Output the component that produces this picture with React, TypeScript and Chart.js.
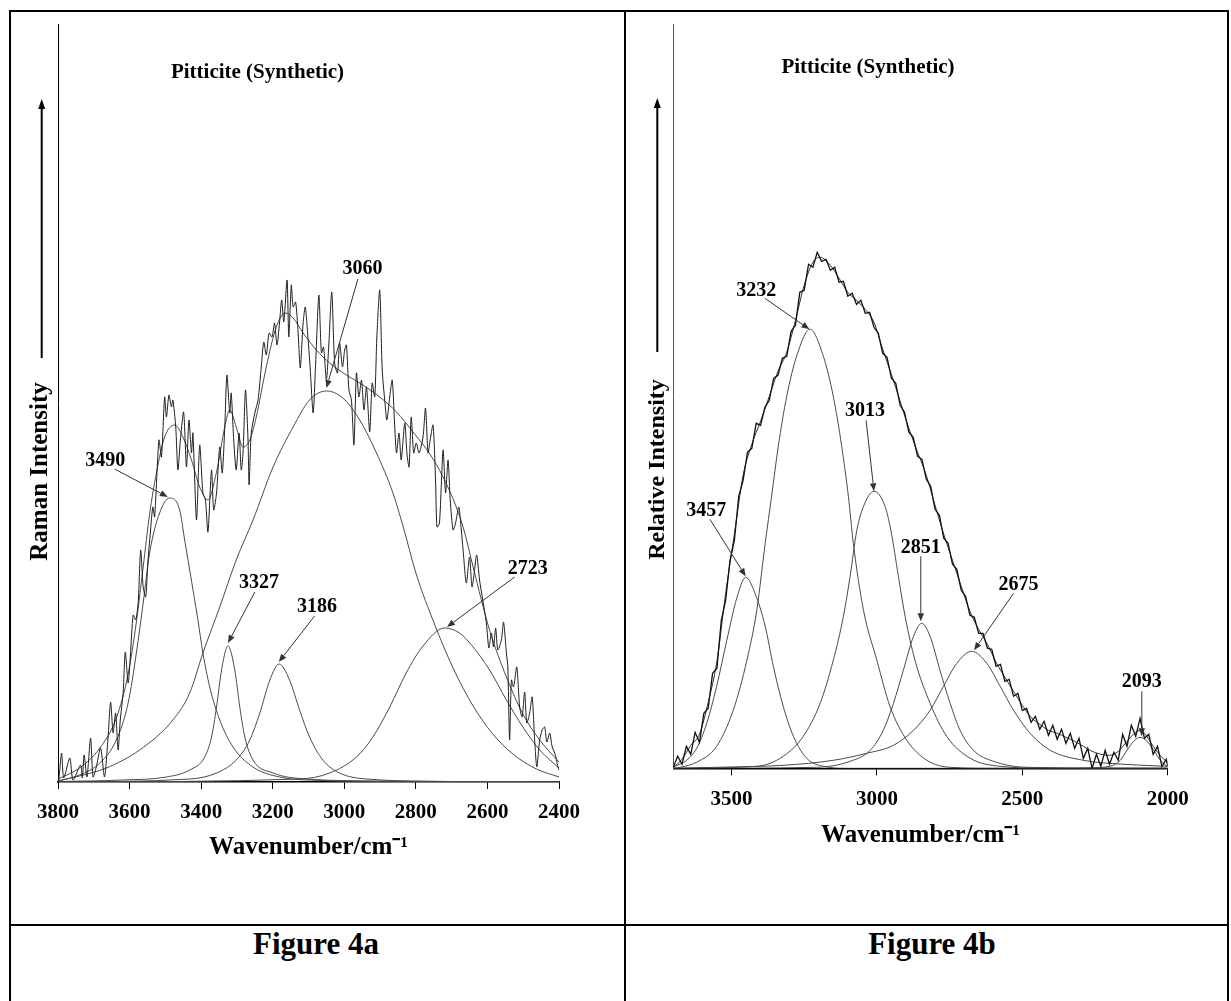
import React, { useEffect, useRef } from 'react';
import { Chart, registerables } from 'chart.js';

Chart.register(...registerables);

const FONT = "'Liberation Serif', 'Times New Roman', Times, serif";

// ---------------- Figure 4a (left) ----------------
const leftTickValues = [3800, 3600, 3400, 3200, 3000, 2800, 2600, 2400];

const leftSpecW = [3798, 3790, 3784, 3767, 3758, 3737, 3732, 3727, 3719, 3709, 3702, 3693, 3681, 3670, 3660, 3653, 3646, 3639, 3632, 3626, 3618, 3612, 3604, 3598, 3590, 3583, 3576, 3569, 3562, 3555, 3549, 3542, 3535, 3530, 3518, 3511, 3502, 3497, 3490, 3483, 3479, 3471, 3465, 3458, 3449, 3441, 3434, 3427, 3423, 3413, 3404, 3395, 3388, 3381, 3371, 3365, 3357, 3348, 3341, 3334, 3328, 3320, 3316, 3309, 3302, 3294, 3288, 3283, 3276, 3269, 3266, 3260, 3250, 3241, 3232, 3225, 3218, 3210, 3202, 3195, 3188, 3181, 3175, 3169, 3160, 3155, 3148, 3143, 3136, 3129, 3123, 3115, 3109, 3101, 3095, 3087, 3080, 3071, 3064, 3058, 3050, 3043, 3035, 3027, 3019, 3013, 3005, 2999, 2994, 2987, 2980, 2973, 2966, 2959, 2952, 2945, 2938, 2929, 2922, 2915, 2909, 2901, 2894, 2887, 2881, 2873, 2866, 2859, 2854, 2847, 2841, 2831, 2825, 2819, 2813, 2806, 2799, 2791, 2780, 2773, 2766, 2760, 2752, 2745, 2741, 2734, 2724, 2717, 2710, 2704, 2696, 2689, 2680, 2673, 2668, 2659, 2650, 2643, 2636, 2630, 2622, 2613, 2603, 2596, 2589, 2583, 2577, 2571, 2561, 2555, 2547, 2543, 2538, 2533, 2527, 2518, 2510, 2503, 2496, 2490, 2482, 2475, 2468, 2462, 2454, 2447, 2440, 2434, 2426, 2419, 2412, 2407, 2403, 2400];
const leftSpecI = [0, 29, 4, 24, 2, 17, 4, 27, 5, 44, 5, 15, 34, 5, 45, 80, 49, 69, 32, 62, 89, 130, 99, 125, 167, 162, 179, 232, 195, 185, 219, 249, 275, 265, 342, 325, 385, 365, 387, 375, 382, 355, 312, 342, 370, 315, 362, 329, 349, 262, 337, 289, 282, 250, 312, 272, 289, 335, 309, 355, 407, 369, 389, 342, 312, 349, 312, 329, 392, 342, 297, 349, 369, 382, 415, 440, 427, 449, 445, 459, 437, 459, 482, 460, 502, 445, 497, 475, 480, 449, 414, 459, 475, 442, 412, 369, 419, 487, 429, 435, 402, 439, 490, 419, 409, 439, 415, 432, 437, 392, 382, 337, 409, 385, 402, 372, 395, 350, 399, 385, 445, 492, 412, 382, 362, 385, 402, 355, 329, 349, 322, 359, 329, 315, 365, 329, 339, 329, 345, 374, 329, 342, 357, 302, 255, 259, 332, 289, 322, 282, 252, 259, 275, 252, 232, 199, 225, 195, 212, 227, 202, 182, 159, 134, 149, 135, 154, 132, 142, 160, 129, 115, 42, 102, 95, 115, 75, 65, 90, 59, 69, 85, 42, 15, 42, 52, 55, 40, 49, 35, 29, 22, 15, 12];

const leftFitW = [3800, 3740, 3683, 3637, 3604, 3581, 3562, 3544, 3525, 3502, 3474, 3451, 3427, 3404, 3381, 3357, 3334, 3320, 3302, 3283, 3264, 3246, 3218, 3190, 3165, 3143, 3115, 3078, 3041, 2994, 2948, 2901, 2854, 2808, 2761, 2724, 2687, 2664, 2640, 2594, 2547, 2501, 2454, 2400];
const leftFitI = [3, 14, 34, 64, 108, 160, 215, 268, 309, 345, 357, 345, 322, 295, 282, 310, 355, 372, 355, 335, 342, 365, 415, 455, 469, 464, 449, 432, 419, 407, 397, 385, 370, 350, 328, 305, 275, 250, 215, 152, 105, 68, 42, 20];

const leftBand3490W = [3800, 3740, 3683, 3637, 3604, 3581, 3562, 3544, 3516, 3488, 3460, 3446, 3432, 3409, 3395, 3376, 3348, 3311, 3255, 3181, 3060, 2900, 2400];
const leftBand3490I = [1, 7, 19, 42, 79, 129, 179, 229, 269, 284, 272, 242, 212, 162, 129, 95, 62, 35, 15, 5, 1.5, 0.5, 0];

const leftBand3060W = [3800, 3740, 3665, 3572, 3479, 3432, 3395, 3348, 3302, 3255, 3199, 3143, 3097, 3050, 3004, 2957, 2910, 2864, 2836, 2799, 2748, 2696, 2640, 2585, 2529, 2463, 2400];
const leftBand3060I = [1, 6, 14, 32, 62, 89, 129, 175, 222, 262, 315, 355, 382, 391, 384, 362, 329, 289, 256, 208, 158, 114, 76, 48, 28, 13, 5];

const leftBand3327W = [3800, 3618, 3497, 3432, 3390, 3371, 3357, 3343, 3325, 3306, 3292, 3278, 3255, 3199, 3106, 2900, 2400];
const leftBand3327I = [0.5, 2, 5, 12, 25, 45, 75, 112, 136, 112, 75, 45, 22, 9, 3, 1, 0];

const leftBand3186W = [3800, 3432, 3357, 3302, 3264, 3236, 3208, 3182, 3153, 3125, 3097, 3060, 3013, 2938, 2700, 2400];
const leftBand3186I = [0, 3, 9, 22, 42, 69, 102, 118, 102, 72, 45, 22, 9, 3, 0.5, 0];

const leftBand2723W = [3800, 3125, 3041, 2966, 2920, 2873, 2827, 2780, 2720, 2678, 2640, 2594, 2547, 2501, 2454, 2400];
const leftBand2723I = [0, 3, 9, 25, 45, 75, 109, 136, 154, 149, 135, 112, 82, 55, 32, 14];

const leftPeakText = ['3490', '3060', '3327', '3186', '2723'];
const leftPeakTextW = [3668, 2949, 3238, 3076, 2487];
const leftPeakTextI = [321, 513, 199, 175, 213];
const leftArrowFromW = [3642, 2962, 3250, 3083, 2524];
const leftArrowFromI = [313, 503, 190, 166, 205];
const leftArrowToW = [3493, 3050, 3325, 3183, 2713];
const leftArrowToI = [285, 394, 139, 120, 155];

// ---------------- Figure 4b (right) ----------------
const rightTickValues = [3500, 3000, 2500, 2000];

const rightSpecW = [3700, 3685, 3670, 3655, 3640, 3625, 3610, 3595, 3580, 3565, 3550, 3535, 3520, 3505, 3490, 3475, 3460, 3445, 3430, 3415, 3400, 3385, 3370, 3355, 3340, 3325, 3310, 3295, 3280, 3265, 3250, 3235, 3220, 3205, 3190, 3175, 3160, 3145, 3130, 3115, 3100, 3085, 3070, 3055, 3040, 3025, 3010, 2995, 2980, 2965, 2950, 2935, 2920, 2905, 2890, 2875, 2860, 2845, 2830, 2815, 2800, 2785, 2770, 2755, 2740, 2725, 2710, 2695, 2680, 2665, 2650, 2635, 2620, 2605, 2590, 2575, 2560, 2545, 2530, 2515, 2500, 2485, 2470, 2455, 2440, 2425, 2410, 2395, 2380, 2365, 2350, 2335, 2320, 2305, 2290, 2275, 2260, 2245, 2230, 2215, 2200, 2185, 2170, 2155, 2140, 2125, 2110, 2095, 2080, 2065, 2050, 2035, 2020, 2005, 2000];
const rightSpecI = [1, 12, 4, 22, 14, 36, 26, 55, 60, 95, 100, 148, 168, 208, 228, 272, 288, 316, 320, 345, 343, 361, 368, 390, 393, 410, 412, 437, 443, 476, 478, 504, 501, 516, 507, 509, 498, 501, 486, 487, 472, 475, 464, 468, 455, 456, 441, 435, 415, 411, 390, 385, 363, 356, 336, 331, 312, 309, 289, 282, 259, 253, 230, 225, 204, 199, 178, 172, 153, 151, 135, 135, 120, 119, 102, 104, 87, 89, 72, 75, 58, 60, 46, 52, 39, 47, 33, 43, 29, 39, 25, 35, 20, 30, 10, 20, 0, 14, 2, 18, 4, 16, 8, 34, 22, 43, 32, 50, 30, 34, 14, 22, 2, 9, 2];

const rightFitW = [3700, 3670, 3640, 3610, 3580, 3550, 3520, 3490, 3460, 3430, 3400, 3370, 3340, 3310, 3280, 3250, 3220, 3195, 3160, 3130, 3100, 3070, 3040, 3010, 2980, 2950, 2920, 2890, 2860, 2830, 2800, 2770, 2740, 2710, 2680, 2650, 2620, 2590, 2560, 2530, 2500, 2470, 2440, 2410, 2380, 2350, 2320, 2290, 2260, 2230, 2200, 2170, 2140, 2110, 2095, 2080, 2050, 2020, 2000];
const rightFitI = [1, 9, 23, 34, 66, 107, 175, 234, 293, 324, 347, 372, 397, 416, 448, 483, 506, 511, 503, 490, 476, 468, 459, 446, 419, 394, 367, 340, 316, 293, 263, 234, 208, 182, 157, 139, 124, 106, 91, 77, 63, 51, 44, 38, 35, 31, 27, 22, 17, 14, 13, 17, 27, 36, 38, 35, 22, 11, 6];

const rightBand3457W = [3700, 3694, 3654, 3620, 3585, 3551, 3516, 3482, 3451, 3419, 3384, 3356, 3322, 3287, 3241, 3184, 3100, 2000];
const rightBand3457I = [1, 2, 8, 20, 45, 82, 128, 170, 191, 175, 142, 102, 62, 32, 10, 2, 0, 0];

const rightBand3232W = [3700, 3677, 3620, 3551, 3494, 3447, 3413, 3384, 3362, 3339, 3310, 3276, 3230, 3184, 3150, 3121, 3098, 3081, 3046, 3000, 2955, 2897, 2828, 2748, 2600, 2000];
const rightBand3232I = [0, 1, 6, 22, 58, 108, 158, 225, 272, 322, 372, 412, 439, 412, 372, 322, 272, 225, 158, 108, 62, 28, 8, 1, 0, 0];

const rightBand3013W = [3700, 3413, 3322, 3253, 3195, 3150, 3115, 3092, 3069, 3046, 3010, 2972, 2952, 2926, 2903, 2869, 2817, 2760, 2679, 2576, 2400, 2000];
const rightBand3013I = [0, 2, 12, 32, 65, 108, 152, 192, 238, 262, 277, 262, 238, 192, 152, 108, 65, 32, 10, 2, 0, 0];

const rightBand2851W = [3700, 3207, 3092, 3023, 2978, 2943, 2909, 2874, 2846, 2817, 2783, 2748, 2714, 2668, 2599, 2484, 2000];
const rightBand2851I = [0, 1, 7, 18, 38, 65, 98, 132, 145, 132, 98, 65, 38, 18, 7, 1, 0];

const rightBand2675W = [3700, 3551, 3322, 3150, 3035, 2943, 2874, 2817, 2771, 2725, 2674, 2622, 2576, 2530, 2473, 2404, 2290, 2150, 2000];
const rightBand2675I = [0, 1, 3, 8, 15, 23, 38, 58, 82, 105, 117, 105, 82, 58, 35, 18, 8, 4, 2];

const rightBand2093W = [2300, 2198, 2163, 2140, 2117, 2095, 2071, 2048, 2025, 2002, 2000];
const rightBand2093I = [0, 2, 8, 18, 27, 31, 27, 18, 8, 2, 1.5];

const rightPeakText = ['3232', '3013', '3457', '2851', '2675', '2093'];
const rightPeakTextW = [3415, 3041, 3587, 2849, 2513, 2089];
const rightPeakTextI = [477, 357, 257, 220, 183, 86];
const rightArrowFromW = [3385, 3037, 3574, 2849, 2530, 2089];
const rightArrowFromI = [470, 348, 249, 212, 175, 77];
const rightArrowToW = [3232, 3010, 3451, 2849, 2666, 2089];
const rightArrowToI = [439, 277, 192, 147, 118, 32];

// ---------------- helpers ----------------
const pts = (w: number[], v: number[]) => w.map((x, i) => ({ x, y: v[i] }));

function drawArrow(ctx: CanvasRenderingContext2D, x0: number, y0: number, x1: number, y1: number, lw: number, headLen: number, headHalf: number, color: string) {
  const ang = Math.atan2(y1 - y0, x1 - x0);
  const bx = x1 - headLen * Math.cos(ang);
  const by = y1 - headLen * Math.sin(ang);
  ctx.strokeStyle = color;
  ctx.lineWidth = lw;
  ctx.beginPath();
  ctx.moveTo(x0, y0);
  ctx.lineTo(bx, by);
  ctx.stroke();
  ctx.fillStyle = color;
  ctx.beginPath();
  ctx.moveTo(x1, y1);
  ctx.lineTo(bx + headHalf * Math.sin(ang), by - headHalf * Math.cos(ang));
  ctx.lineTo(bx - headHalf * Math.sin(ang), by + headHalf * Math.cos(ang));
  ctx.closePath();
  ctx.fill();
}

function makeDecor(cfg: any) {
  return {
    id: 'decor',
    afterDraw(chart: any) {
      const { ctx } = chart;
      const xs = chart.scales.x;
      const ys = chart.scales.y;
      ctx.save();
      ctx.fillStyle = '#000';
      ctx.textAlign = 'center';
      ctx.textBaseline = 'middle';
      ctx.font = `bold ${cfg.titleSize}px ${FONT}`;
      ctx.fillText(cfg.title, cfg.titleX, cfg.titleY);

      ctx.save();
      ctx.translate(cfg.yTitleX, cfg.yTitleY);
      ctx.rotate(-Math.PI / 2);
      ctx.font = `bold ${cfg.yTitleSize}px ${FONT}`;
      ctx.fillText(cfg.yTitle, 0, 0);
      ctx.restore();

      drawArrow(ctx, cfg.arrowX, cfg.arrowBottom, cfg.arrowX, cfg.arrowTop, 2, 10, 3.5, '#000');

      for (let i = 0; i < cfg.text.length; i++) {
        ctx.fillStyle = '#000';
        ctx.font = `bold 20px ${FONT}`;
        ctx.fillText(cfg.text[i], xs.getPixelForValue(cfg.textW[i]), ys.getPixelForValue(cfg.textI[i]));
        drawArrow(
          ctx,
          xs.getPixelForValue(cfg.fromW[i]), ys.getPixelForValue(cfg.fromI[i]),
          xs.getPixelForValue(cfg.toW[i]), ys.getPixelForValue(cfg.toI[i]),
          1, 8, 3.2, '#333'
        );
      }
      ctx.restore();
    },
  };
}

function lineDs(data: any[], color: string, width: number, smooth: boolean, tension = 0) {
  return {
    data,
    showLine: true,
    borderColor: color,
    borderWidth: width,
    pointRadius: 0,
    fill: false,
    tension,
    cubicInterpolationMode: smooth ? 'monotone' : 'default',
  };
}

function makeConfig(p: any) {
  return {
    type: 'scatter',
    data: { datasets: p.datasets },
    options: {
      responsive: false,
      animation: false,
      events: [],
      layout: { padding: p.padding },
      plugins: { legend: { display: false }, tooltip: { enabled: false }, title: { display: false } },
      scales: {
        x: {
          type: 'linear',
          position: 'bottom',
          reverse: true,
          min: p.xMin,
          max: p.xMax,
          afterBuildTicks: (s: any) => { s.ticks = p.tickValues.map((v: number) => ({ value: v })); },
          afterFit: (s: any) => { s.height = 90; },
          ticks: {
            color: '#000',
            font: { family: FONT, size: 21, weight: 'bold' },
            padding: p.tickPadding,
            maxRotation: 0,
            autoSkip: false,
            includeBounds: false,
            callback: (v: any) => String(v),
          },
          grid: { display: true, drawOnChartArea: false, drawTicks: true, tickLength: 7, color: '#000', lineWidth: 1 },
          border: { display: true, color: '#000', width: 1.5 },
          title: {
            display: true,
            text: 'Wavenumber/cm⁻¹',
            color: '#000',
            font: { family: FONT, size: 25, weight: 'bold' },
            padding: { top: 0, bottom: p.titlePad },
          },
        },
        y: {
          type: 'linear',
          min: 0,
          max: p.yMax,
          afterFit: (s: any) => { s.width = 0; },
          ticks: { display: false },
          grid: { display: false, drawTicks: false },
          border: { display: true, color: p.yAxisColor, width: 1 },
        },
      },
    },
    plugins: [makeDecor(p.decor)],
  };
}

const BAND = '#4a4a4a';

function leftConfig() {
  return makeConfig({
    xMin: 2400, xMax: 3800, yMax: 758, tickValues: leftTickValues, tickPadding: 11, titlePad: 9,
    padding: { left: 58, top: 24, right: 66, bottom: 53 },
    yAxisColor: '#000',
    datasets: [
      lineDs(pts(leftSpecW, leftSpecI), '#1e1e1e', 1, false, 0.25),
      lineDs(pts(leftFitW, leftFitI), BAND, 1, true),
      lineDs(pts(leftBand3490W, leftBand3490I), BAND, 1, true),
      lineDs(pts(leftBand3060W, leftBand3060I), BAND, 1, true),
      lineDs(pts(leftBand3327W, leftBand3327I), BAND, 1, true),
      lineDs(pts(leftBand3186W, leftBand3186I), BAND, 1, true),
      lineDs(pts(leftBand2723W, leftBand2723I), BAND, 1, true),
    ],
    decor: {
      title: 'Pitticite (Synthetic)', titleX: 257.5, titleY: 73, titleSize: 21,
      yTitle: 'Raman Intensity', yTitleX: 40.5, yTitleY: 471.5, yTitleSize: 25,
      arrowX: 41.7, arrowTop: 99, arrowBottom: 358,
      text: leftPeakText, textW: leftPeakTextW, textI: leftPeakTextI,
      fromW: leftArrowFromW, fromI: leftArrowFromI, toW: leftArrowToW, toI: leftArrowToI,
    },
  });
}

function rightConfig() {
  return makeConfig({
    xMin: 2000, xMax: 3700, yMax: 744.3, tickValues: rightTickValues, tickPadding: 12, titlePad: 8,
    padding: { left: 48.3, top: 24, right: 63.3, bottom: 66.7 },
    yAxisColor: '#555',
    datasets: [
      lineDs(pts(rightSpecW, rightSpecI), '#111', 1.3, false, 0),
      lineDs(pts(rightFitW, rightFitI), '#333', 1, true),
      lineDs(pts(rightBand3457W, rightBand3457I), BAND, 1, true),
      lineDs(pts(rightBand3232W, rightBand3232I), BAND, 1, true),
      lineDs(pts(rightBand3013W, rightBand3013I), BAND, 1, true),
      lineDs(pts(rightBand2851W, rightBand2851I), BAND, 1, true),
      lineDs(pts(rightBand2675W, rightBand2675I), BAND, 1, true),
      lineDs(pts(rightBand2093W, rightBand2093I), BAND, 1, true),
    ],
    decor: {
      title: 'Pitticite (Synthetic)', titleX: 243, titleY: 68, titleSize: 21,
      yTitle: 'Relative Intensity', yTitleX: 32.5, yTitleY: 469.5, yTitleSize: 24,
      arrowX: 32.3, arrowTop: 98, arrowBottom: 352,
      text: rightPeakText, textW: rightPeakTextW, textI: rightPeakTextI,
      fromW: rightArrowFromW, fromI: rightArrowFromI, toW: rightArrowToW, toI: rightArrowToI,
    },
  });
}

function ChartCanvas({ make, left, width, height }: { make: () => any; left: number; width: number; height: number }) {
  const ref = useRef<HTMLCanvasElement>(null);
  useEffect(() => {
    const chart = new Chart(ref.current as HTMLCanvasElement, make());
    return () => chart.destroy();
  }, []);
  return (
    <canvas
      ref={ref}
      width={width}
      height={height}
      style={{ position: 'absolute', left, top: 0, width, height, display: 'block' }}
    />
  );
}

const line = (l: number, t: number, w: number, h: number) => (
  <div style={{ position: 'absolute', left: l, top: t, width: w, height: h, background: '#000', zIndex: 2 }} />
);

const figLabel: React.CSSProperties = {
  position: 'absolute',
  top: 926,
  height: 36,
  lineHeight: '36px',
  transform: 'translateX(-50%)',
  font: `bold 31px ${FONT}`,
  color: '#000',
  whiteSpace: 'nowrap',
  zIndex: 2,
};

export default function App() {
  return (
    <div style={{ position: 'absolute', left: 0, top: 0, width: 1231, height: 1001, background: '#fff', overflow: 'hidden' }}>
      <ChartCanvas make={leftConfig} left={0} width={625} height={925} />
      <ChartCanvas make={rightConfig} left={625} width={606} height={925} />
      {line(9, 10, 1220, 2)}
      {line(9, 10, 2, 991)}
      {line(1227, 10, 2, 991)}
      {line(624, 10, 2, 991)}
      {line(9, 924, 1220, 2)}
      <div style={{ ...figLabel, left: 316 }}>Figure 4a</div>
      <div style={{ ...figLabel, left: 932 }}>Figure 4b</div>
    </div>
  );
}
